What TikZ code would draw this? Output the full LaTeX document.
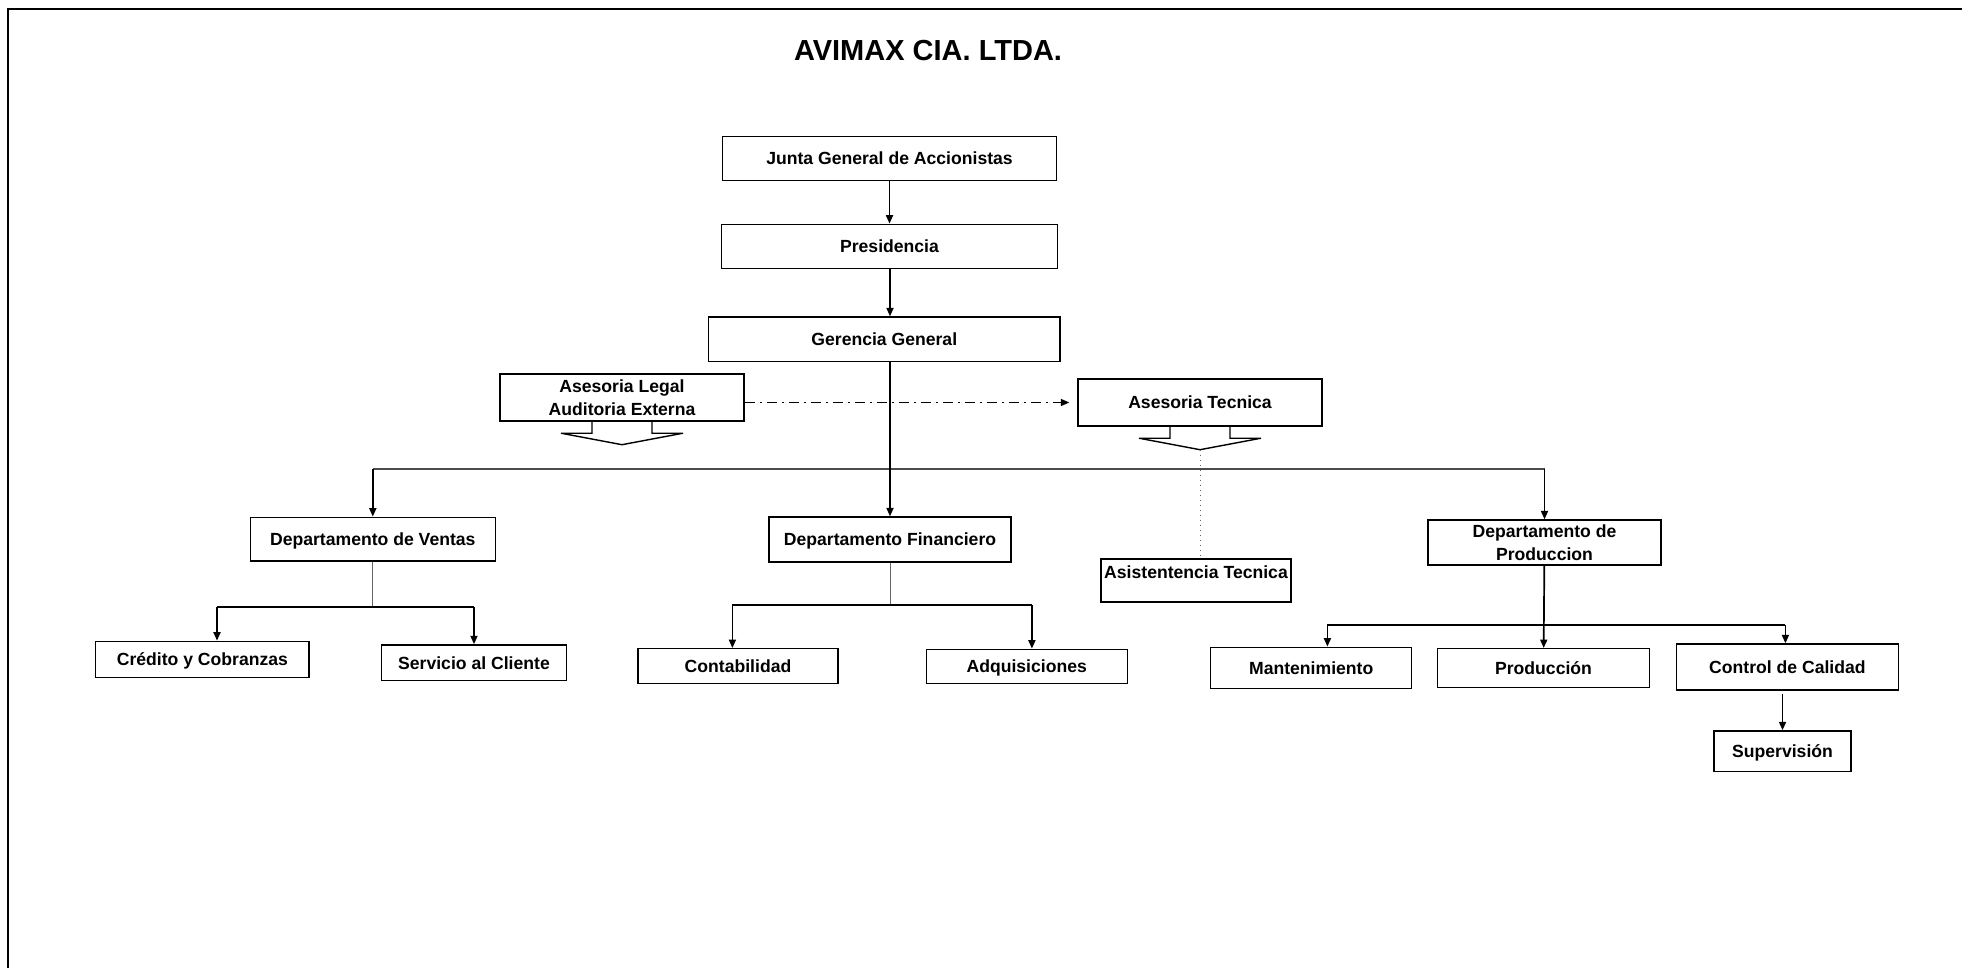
\documentclass[tikz,border=0pt]{standalone}
\usepackage{fontspec}
\setmainfont{Liberation Sans}
\usetikzlibrary{arrows.meta}

\tikzstyle{every node}=[font=\bfseries\fontsize{8.8}{11.3}\selectfont]
\tikzstyle{cargo}=[draw=black, line width=0.7pt, inner sep=1pt, align=center]
\tikzstyle{linea}=[text height=6.4pt, text depth=0pt]
\tikzstyle{barra}=[draw=black!70, line width=1pt]
\tikzstyle{tallo}=[draw=black!60, line width=0.5pt]
\tikzstyle{flecha abajo}=[line width=0.7pt]

\begin{document}
\begin{tikzpicture}[x=0.5pt, y=-0.5pt, line width=0.85pt, >={Triangle[length=4.2pt,width=3.5pt]}]
\useasboundingbox (0,0) rectangle (1962,968);
\draw[line width=1.3pt] (1962,9) -- (8,9) -- (8,968);

\node[font=\bfseries\fontsize{14.5}{17}\selectfont] (titulo) at (928,51) {AVIMAX CIA. LTDA.};

\node[cargo,linea,minimum width=167pt,minimum height=22.2pt] (junta) at (889.5,158.5) {Junta General de Accionistas};
\node[cargo,linea,minimum width=168pt,minimum height=22.2pt,below of=junta,node distance=44pt] (pres) {Presidencia};
\node[cargo,linea,minimum width=175.7pt,minimum height=22.2pt] (gerencia) at (884.3,339.2) {Gerencia General};

\node[cargo,minimum width=122pt,minimum height=23.5pt] (legal) at (622,397.5) {Asesoria Legal\\Auditoria Externa};
\node[cargo,linea,minimum width=122pt,minimum height=23.5pt] (tecnica) at (1200,402.5) {Asesoria Tecnica};

\node[cargo,linea,minimum width=122.5pt,minimum height=21.9pt] (ventas) at (372.8,539.2) {Departamento de Ventas};
\node[cargo,linea,minimum width=121pt,minimum height=22.5pt] (fin) at (890,539.5) {Departamento Financiero};
\node[cargo,minimum width=95pt,minimum height=21.5pt,text height=6.4pt,text depth=8.5pt] (asist) at (1196,580.5) {Asistentencia Tecnica};
\node[cargo,minimum width=116.5pt,minimum height=22.5pt] (proddep) at (1544.5,542.5) {Departamento de\\Produccion};

\node[cargo,linea,minimum width=106.7pt,minimum height=18.2pt] (credito) at (202.4,659.5) {Crédito y Cobranzas};
\node[cargo,linea,minimum width=92.6pt,minimum height=17.9pt] (servicio) at (474,662.8) {Servicio al Cliente};
\node[cargo,linea,minimum width=100pt,minimum height=17.5pt] (conta) at (738,666.2) {Contabilidad};
\node[cargo,linea,minimum width=100.5pt,minimum height=17pt] (adq) at (1026.7,666.3) {Adquisiciones};
\node[cargo,linea,minimum width=100.5pt,minimum height=20.7pt] (mant) at (1311.2,668) {Mantenimiento};
\node[cargo,linea,minimum width=106pt,minimum height=19.3pt] (produccion) at (1543.5,668) {Producción};
\node[cargo,linea,minimum width=110.9pt,minimum height=22.9pt] (control) at (1787.4,666.9) {Control de Calidad};
\node[cargo,linea,minimum width=68.5pt,minimum height=20.4pt] (superv) at (1782.5,751.3) {Supervisión};

\draw[flecha abajo] (legal.south) ++(-30,0) -- ++(0,11.5) -- ++(-31,0) -- ++(61,11.5) coordinate (legal punta) -- ++(61,-11.5) -- ++(-31,0) -- ++(0,-11.5);
\draw[flecha abajo] (tecnica.south) ++(-30,0) -- ++(0,11.5) -- ++(-31,0) -- ++(61,11.5) coordinate (tecnica punta) -- ++(61,-11.5) -- ++(-31,0) -- ++(0,-11.5);

\draw[tallo, dotted] (tecnica punta) -- (tecnica punta |- asist.north);
\draw[->, line width=0.6pt, dash pattern=on 5pt off 2.5pt on 1pt off 2.5pt, shorten >=4pt] (legal.east |- tecnica.west) -- (tecnica.west);

\coordinate (bus) at (890,469);
\coordinate (vbus) at (372,607);
\coordinate (fbus) at (890,605);
\coordinate (pbus) at (1544,625);
\coordinate (gerencia arr) at (gerencia.north -| fin.north);
\coordinate (credito arr) at ([xshift=7.3pt]credito.north);
\coordinate (conta arr) at ([xshift=-2.8pt]conta.north);
\coordinate (adq arr) at ([xshift=2.6pt]adq.north);
\coordinate (mant arr) at ([xshift=8.1pt]mant.north);
\coordinate (control arr) at ([xshift=-1pt]control.north);

\draw[barra] (ventas.north |- bus) -- (proddep.north |- bus);
\draw[tallo] (ventas) -- (ventas.south |- vbus);
\draw[tallo] (fin) -- (fin.south |- fbus);
\draw (credito arr |- vbus) -- (servicio.north |- vbus);
\draw (conta arr |- fbus) -- (adq arr |- fbus);
\draw (mant arr |- pbus) -- (control arr |- pbus);

\path [->]
		(junta) edge (pres) (pres.south -| gerencia arr) edge (gerencia arr)
		(gerencia.south -| fin.north) edge (fin)
		(ventas.north |- bus) edge (ventas) (proddep.north |- bus) edge (proddep)

		(credito arr |- vbus) edge (credito arr) (servicio.north |- vbus) edge (servicio)
		(conta arr |- fbus) edge (conta arr) (adq arr |- fbus) edge (adq arr)
		(mant arr |- pbus) edge (mant arr) (proddep) edge (produccion) (control arr |- pbus) edge (control arr)
		(control.south -| superv.north) edge [shorten <=1.5pt] (superv)

;

\end{tikzpicture}
\end{document}
